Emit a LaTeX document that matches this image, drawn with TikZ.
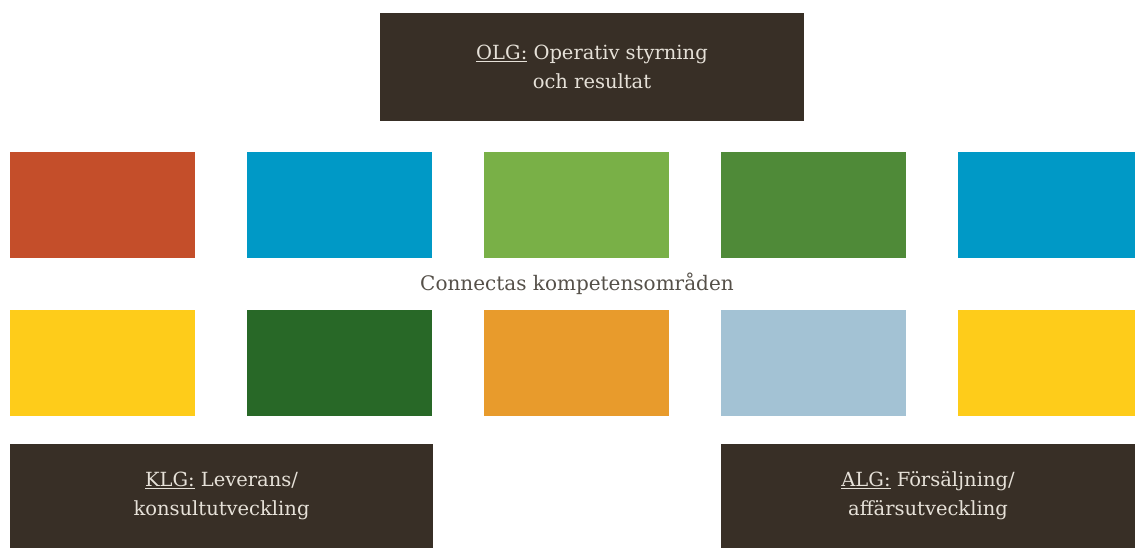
\documentclass[tikz,border=0pt]{standalone}
\usepackage{fontspec}
\setmainfont{DejaVu Serif}
\definecolor{brown}{HTML}{382F26}
\definecolor{cred}{HTML}{C44E2A}
\definecolor{cblue}{HTML}{0099C6}
\definecolor{clgreen}{HTML}{79B047}
\definecolor{cgreen}{HTML}{4F8A38}
\definecolor{cyellow}{HTML}{FECC1A}
\definecolor{cdgreen}{HTML}{286827}
\definecolor{corange}{HTML}{E89B2C}
\definecolor{clblue}{HTML}{A3C2D4}
\definecolor{ctext}{HTML}{E6E1D8}
\definecolor{cgray}{HTML}{555049}
\tikzset{
  cbox/.style={minimum width=185pt, minimum height=106pt, inner sep=0pt, outer sep=0pt, anchor=north west},
  dbox/.style={fill=brown, inner sep=0pt, outer sep=0pt, anchor=north west, text=ctext, align=center,
    font=\fontsize{19.5}{29}\selectfont},
}
\begin{document}
\begin{tikzpicture}[x=1pt,y=-1pt]
\useasboundingbox (0,0) rectangle (1135,548);
\node[dbox, minimum width=424pt, minimum height=108pt] (olg) at (380,13) {\underline{OLG:} Operativ styrning\\och resultat};
\node[cbox, fill=cred] (r1) at (10,152) {};
\node[cbox, fill=cblue] (r2) at (247,152) {};
\node[cbox, fill=clgreen] (r3) at (484,152) {};
\node[cbox, fill=cgreen] (r4) at (721,152) {};
\node[cbox, fill=cblue, minimum width=177pt] (r5) at (958,152) {};
\node[text=cgray, font=\fontsize{20}{24}\selectfont] (lbl) at (577,284) {Connectas kompetensområden};
\node[cbox, fill=cyellow] (s1) at (10,310) {};
\node[cbox, fill=cdgreen] (s2) at (247,310) {};
\node[cbox, fill=corange] (s3) at (484,310) {};
\node[cbox, fill=clblue] (s4) at (721,310) {};
\node[cbox, fill=cyellow, minimum width=177pt] (s5) at (958,310) {};
\node[dbox, minimum width=423pt, minimum height=104pt] (klg) at (10,444) {\underline{KLG:} Leverans/\\konsultutveckling};
\node[dbox, minimum width=414pt, minimum height=104pt] (alg) at (721,444) {\underline{ALG:} Försäljning/\\affärsutveckling};
\end{tikzpicture}
\end{document}
